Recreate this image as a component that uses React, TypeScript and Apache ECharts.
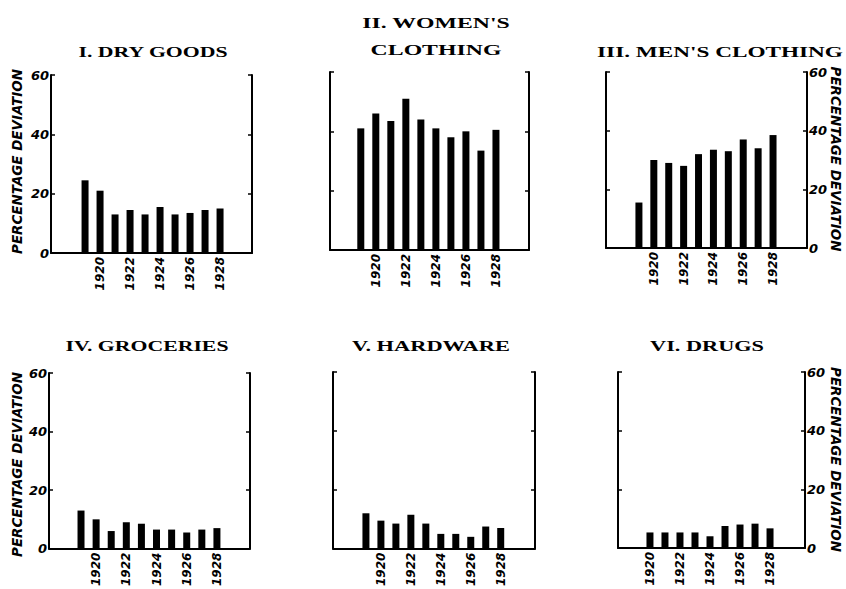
import React, { useEffect, useRef } from "react";
import * as echarts from "echarts";

const years = [1919, 1920, 1921, 1922, 1923, 1924, 1925, 1926, 1927, 1928];
const yearLabels = [1920, 1922, 1924, 1926, 1928];
const dryGoods = [24.5, 21, 13, 14.5, 13, 15.5, 13, 13.5, 14.5, 15];
const womensClothing = [41, 46, 43.5, 51, 44, 41, 38, 40, 33.5, 40.5];
const mensClothing = [15.5, 30, 29, 28, 32, 33.5, 33, 37, 34, 38.5];
const groceries = [13, 10, 6, 9, 8.5, 6.5, 6.5, 5.5, 6.5, 7];
const hardware = [12, 9.5, 8.5, 11.5, 8.5, 5, 5, 4, 7.5, 7];
const drugs = [null, 5.3, 5.3, 5.3, 5.3, 4, 7.5, 8, 8.3, 6.7];
const titles = [
  "I. DRY GOODS",
  "II. WOMEN'S\nCLOTHING",
  "III. MEN'S CLOTHING",
  "IV. GROCERIES",
  "V. HARDWARE",
  "VI. DRUGS",
];
const seriesValues = [dryGoods, womensClothing, mensClothing, groceries, hardware, drugs];
const axisTitle = "PERCENTAGE DEVIATION";
const yMin = 0;
const yMax = 60;
const yInterval = 20;

// layout (pixels / axis extents)
const panels = [
  { l: 51, t: 75, r: 252, b: 253, xMin: 1916.73, xMax: 1930.13, side: "left", tx: 153, ty: 52, tw: 150 },
  { l: 330, t: 72, r: 529, b: 250, xMin: 1916.95, xMax: 1930.2, side: "none", tx: 436, ty: 36.5, tw: 148 },
  { l: 606, t: 72, r: 807, b: 248, xMin: 1916.79, xMax: 1930.28, side: "right", tx: 720, ty: 52, tw: 246 },
  { l: 49, t: 373, r: 250, b: 553, xMin: 1916.88, xMax: 1930.19, side: "left", tx: 147, ty: 346, tw: 163 },
  { l: 333, t: 372, r: 535, b: 551, xMin: 1916.8, xMax: 1930.29, side: "none", tx: 431, ty: 346, tw: 158 },
  { l: 618, t: 372, r: 805, b: 548, xMin: 1917.87, xMax: 1930.33, side: "right", tx: 707, ty: 346, tw: 114 },
];
const axisTitlePos = [
  { x: 17, y: 161.5, rot: Math.PI / 2 },
  { x: 17, y: 464.5, rot: Math.PI / 2 },
  { x: 836, y: 159, rot: -Math.PI / 2 },
  { x: 836, y: 459.5, rot: -Math.PI / 2 },
];

const HAND = "DejaVu Sans";
const SERIF = "Liberation Serif";

function measure(text: string, font: string): number {
  const c = document.createElement("canvas").getContext("2d");
  if (!c) return text.length * 8;
  c.font = font;
  return c.measureText(text).width;
}

export default function App() {
  const ref = useRef<HTMLDivElement>(null);
  useEffect(() => {
    if (!ref.current) return;
    const chart = echarts.init(ref.current, undefined, { renderer: "svg" });

    const grid = panels.map((p) => ({
      left: p.l,
      top: p.t,
      width: p.r - p.l,
      height: p.b - p.t,
      containLabel: false,
    }));

    const xAxis = panels.map((p, i) => ({
      type: "value",
      gridIndex: i,
      min: p.xMin,
      max: p.xMax,
      axisLine: { show: true, onZero: false, lineStyle: { color: "#000", width: 2 } },
      axisTick: { show: false },
      splitLine: { show: false },
      axisLabel: {
        customValues: yearLabels,
        formatter: (v: number) => String(Math.round(v)),
        rotate: 90,
        margin: 4,
        color: "#000",
        fontFamily: HAND,
        fontStyle: "italic",
        fontWeight: "bold",
        fontSize: 12,
      },
    }));

    const yAxis: any[] = [];
    panels.forEach((p, i) => {
      ["left", "right"].forEach((pos) => {
        yAxis.push({
          type: "value",
          gridIndex: i,
          position: pos,
          min: yMin,
          max: yMax,
          interval: yInterval,
          axisLine: { show: true, onZero: false, lineStyle: { color: "#000", width: 2 } },
          axisTick: { show: true, inside: true, length: 4, lineStyle: { color: "#000", width: 1.5 } },
          splitLine: { show: false },
          axisLabel: {
            show: p.side === pos,
            margin: 2,
            color: "#000",
            fontFamily: HAND,
            fontStyle: "italic",
            fontWeight: "bold",
            fontSize: 13,
          },
        });
      });
    });

    const series = seriesValues.map((vals, i) => ({
      type: "bar",
      xAxisIndex: i,
      yAxisIndex: i * 2,
      barWidth: 7,
      itemStyle: { color: "#000" },
      data: years
        .map((y, k) => [y, vals[k]])
        .filter((d) => d[1] !== null && d[1] !== undefined),
    }));

    const titleSize = 14.5;
    const titleFont = `bold ${titleSize}px "${SERIF}"`;
    const graphic: any[] = titles.map((t, i) => {
      const first = t.split("\n")[0];
      const sx = panels[i].tw / measure(first, titleFont);
      return {
        type: "text",
        x: panels[i].tx,
        y: panels[i].ty,
        scaleX: sx,
        style: {
          text: t,
          fill: "#000",
          fontFamily: SERIF,
          fontWeight: "bold",
          fontSize: titleSize,
          lineHeight: 27,
          align: "center",
          verticalAlign: "middle",
        },
      };
    });

    const atSize = 14;
    const atFont = `italic bold ${atSize}px "${HAND}"`;
    const atScale = 185 / measure(axisTitle, atFont);
    axisTitlePos.forEach((a) => {
      graphic.push({
        type: "text",
        x: a.x,
        y: a.y,
        rotation: a.rot,
        scaleX: atScale,
        style: {
          text: axisTitle,
          fill: "#000",
          fontFamily: HAND,
          fontStyle: "italic",
          fontWeight: "bold",
          fontSize: atSize,
          align: "center",
          verticalAlign: "middle",
        },
      });
    });

    chart.setOption({
      animation: false,
      backgroundColor: "#fff",
      grid,
      xAxis,
      yAxis,
      series,
      graphic,
    } as any);

    return () => chart.dispose();
  }, []);

  return (
    <div
      ref={ref}
      style={{ position: "fixed", left: 0, top: 0, width: 846, height: 589, background: "#fff" }}
    />
  );
}
